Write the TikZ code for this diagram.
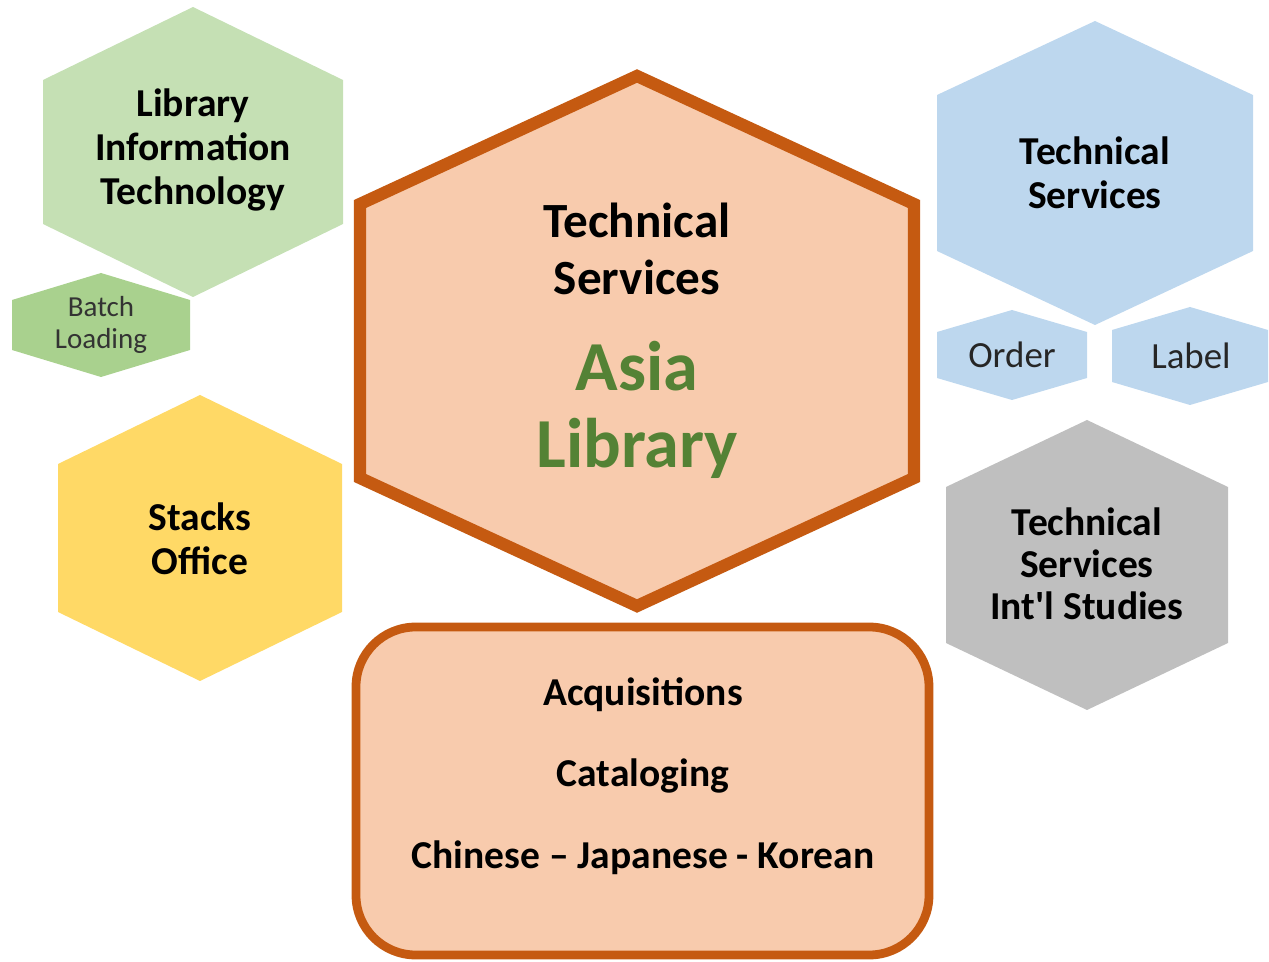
\documentclass[tikz,border=0pt]{standalone}
\usepackage{fontspec}
\setmainfont{Carlito}
\usetikzlibrary{positioning}
\definecolor{litgreen}{HTML}{C5E0B4}
\definecolor{batchgreen}{HTML}{A9D18E}
\definecolor{tsorange}{HTML}{F8CBAD}
\definecolor{tsborder}{HTML}{C55A11}
\definecolor{asiagreen}{HTML}{548235}
\definecolor{tsblue}{HTML}{BDD7EE}
\definecolor{stackyellow}{HTML}{FFD966}
\definecolor{intlgrey}{HTML}{BFBFBF}
\definecolor{softblack}{HTML}{262626}
\tikzset{bigtext/.style={font=\bfseries\fontsize{22.5}{25}\selectfont,align=center,text=black},smalltext/.style={font=\fontsize{21}{23}\selectfont,align=center,text=softblack}}

\begin{document}
\begin{tikzpicture}[x=0.02cm,y=-0.02cm]
\useasboundingbox (0,0) rectangle (1269,962);
% plain hexagons: centre x/y, half width, half height, half side
\foreach \cx/\cy/\w/\h/\s/\col in {193/152/150/145/72/litgreen,101/325/89/52/25/batchgreen,1095/173/158/152/78/tsblue,1012/355/75/45/23/tsblue,1190/356/78/49/26/tsblue,200/538/142/143/74/stackyellow,1087/565/141/145/78/intlgrey}{
\fill[\col] (\cx,\cy-\h) -- (\cx+\w,\cy-\s) -- (\cx+\w,\cy+\s) -- (\cx,\cy+\h) -- (\cx-\w,\cy+\s) -- (\cx-\w,\cy-\s) -- cycle;
}
% centre hexagon and box
\draw[fill=tsorange,draw=tsborder,line width=7pt] (637,76) -- (914,204) -- (914,478) -- (637,606) -- (360,478) -- (360,204) -- cycle;
\draw[fill=tsorange,draw=tsborder,line width=5pt,rounded corners=34pt] (356,627) rectangle (929,955);
\node[bigtext] (lit) at (193,150) {Library\\Information\\Technology};
\node[smalltext,font=\fontsize{16.5}{18}\selectfont,text=black!80] (batch) at (101,325) {Batch\\Loading};
\node[bigtext,font=\bfseries\fontsize{28}{32}\selectfont] (tech) at (637,249) {Technical\\Services};
\node[bigtext,font=\bfseries\fontsize{40}{44}\selectfont,text=asiagreen] (asia) at (637,410) {Asia\\Library};
\node[bigtext] (techr) at (1095,173) {Technical\\Services};
\node[smalltext] (order) at (1012,355) {Order};
\node[smalltext] (label) at (1191,356) {Label};
\node[bigtext] (stacks) at (200,539) {Stacks\\Office};
\node[bigtext,font=\bfseries\fontsize{22.5}{23.8}\selectfont] (intl) at (1087,564) {Technical\\Services\\Int\textquotesingle l Studies};
\node[bigtext,font=\bfseries\fontsize{22.5}{46.5}\selectfont] (units) at (643,776) {Acquisitions\\Cataloging\\Chinese -- Japanese - Korean};
\end{tikzpicture}
\end{document}
